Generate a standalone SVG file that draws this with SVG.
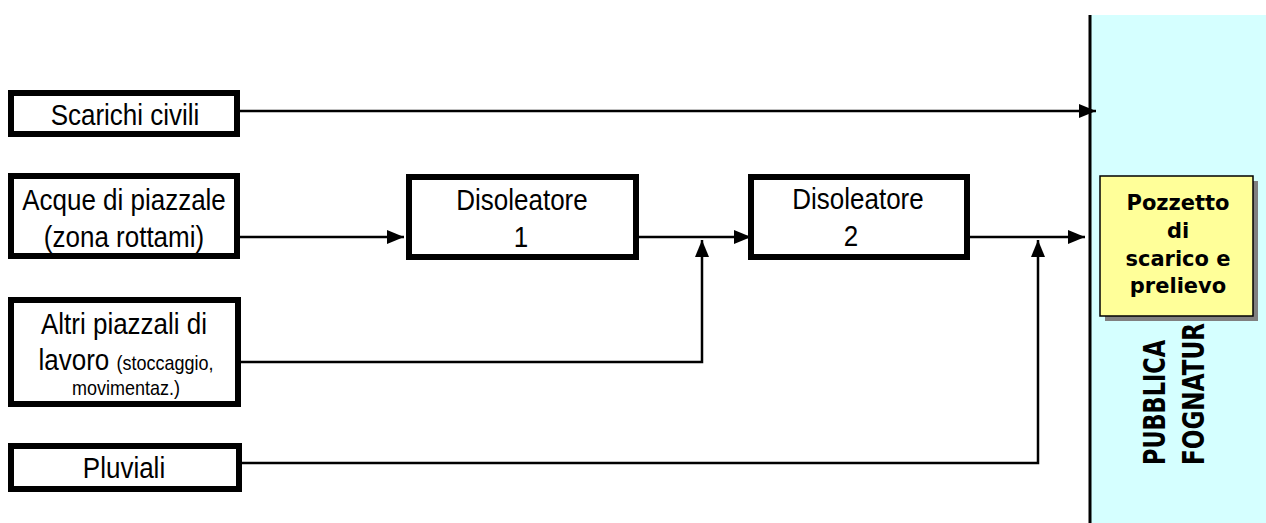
<svg xmlns="http://www.w3.org/2000/svg" width="1266" height="523" viewBox="0 0 1266 523">
<defs>
<marker id="ah" markerUnits="userSpaceOnUse" markerWidth="17" markerHeight="14" refX="17" refY="7" orient="auto">
<path d="M0,0 L17,7 L0,14 z" fill="#000"/>
</marker>
<style>
.box{fill:#fff;stroke:#000;stroke-width:6}
.t{font-family:"Liberation Sans",Arial,sans-serif;font-size:26px;fill:#000;text-anchor:middle}
.s{font-size:18px}
.b{font-family:"DejaVu Sans",Verdana,sans-serif;font-weight:bold;font-size:21px;fill:#000;text-anchor:middle}
.v{font-family:"DejaVu Sans",Verdana,sans-serif;font-weight:bold;font-size:30px;fill:#000}
.c{fill:none;stroke:#000;stroke-width:2.5}
</style>
</defs>
<rect width="1266" height="523" fill="#fff"/>
<g id="fognatura">
<rect x="1091" y="15" width="175" height="508" fill="#d5ffff"/>
<line x1="1090" y1="15" x2="1090" y2="523" stroke="#000" stroke-width="3"/>
<text class="v" transform="translate(1165,465) rotate(-90)" textLength="125" lengthAdjust="spacingAndGlyphs">PUBBLICA</text>
<text class="v" transform="translate(1204,465) rotate(-90)" textLength="142" lengthAdjust="spacingAndGlyphs">FOGNATUR</text>
</g>
<g id="pozzetto">
<rect x="1105" y="181" width="153" height="140" fill="#808080"/>
<rect x="1100" y="176" width="153" height="140" fill="#ffff99" stroke="#000" stroke-width="1.5"/>
<text class="b" x="1178" y="210">Pozzetto</text>
<text class="b" x="1178" y="238">di</text>
<text class="b" x="1178" y="266">scarico e</text>
<text class="b" x="1178" y="293">prelievo</text>
</g>
<g id="connectors">
<line class="c" x1="240" y1="111" x2="1096" y2="111" marker-end="url(#ah)"/>
<line class="c" x1="240" y1="237" x2="404" y2="237" marker-end="url(#ah)"/>
<line class="c" x1="639" y1="237" x2="751" y2="237" marker-end="url(#ah)"/>
<polyline class="c" points="241,362 702,362 702,240" marker-end="url(#ah)"/>
<line class="c" x1="970" y1="237" x2="1085" y2="237" marker-end="url(#ah)"/>
<polyline class="c" points="242,463 1038,463 1038,240" marker-end="url(#ah)"/>
</g>
<g id="scarichi-civili">
<rect class="box" x="11" y="93" width="226" height="41"/>
<text class="t" transform="matrix(1 0 0 1.15 0 125)" x="125" y="0">Scarichi civili</text>
</g>
<g id="acque-piazzale">
<rect class="box" x="11" y="176" width="226" height="80"/>
<text class="t" transform="matrix(1 0 0 1.15 0 210)" x="124" y="0">Acque di piazzale</text>
<text class="t" transform="matrix(1 0 0 1.15 0 247)" x="124" y="0">(zona rottami)</text>
</g>
<g id="altri-piazzali">
<rect class="box" x="11" y="300" width="227" height="104"/>
<text class="t" transform="matrix(1 0 0 1.15 0 334)" x="124" y="0">Altri piazzali di</text>
<text class="t" transform="matrix(1 0 0 1.15 0 370)" x="126" y="0">lavoro <tspan class="s">(stoccaggio,</tspan></text>
<text class="t s" transform="matrix(1 0 0 1.15 0 395)" x="126" y="0">movimentaz.)</text>
</g>
<g id="pluviali">
<rect class="box" x="11" y="446" width="228" height="43"/>
<text class="t" transform="matrix(1 0 0 1.15 0 478)" x="124" y="0">Pluviali</text>
</g>
<g id="disoleatore-1">
<rect class="box" x="409" y="177" width="227" height="80"/>
<text class="t" transform="matrix(1 0 0 1.15 0 210)" x="522" y="0">Disoleatore</text>
<text class="t" transform="matrix(1 0 0 1.15 0 247)" x="521" y="0">1</text>
</g>
<g id="disoleatore-2">
<rect class="box" x="751" y="177" width="216" height="80"/>
<text class="t" transform="matrix(1 0 0 1.15 0 209)" x="858" y="0">Disoleatore</text>
<text class="t" transform="matrix(1 0 0 1.15 0 246)" x="851" y="0">2</text>
</g>
</svg>
